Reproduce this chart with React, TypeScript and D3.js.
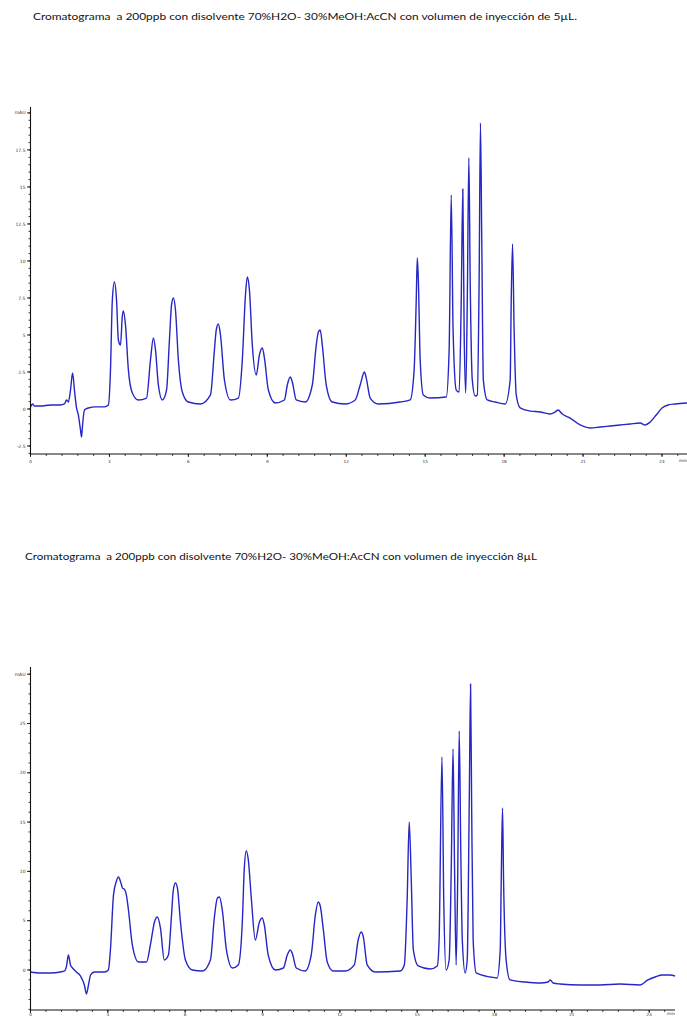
import React from 'react';
import * as d3 from 'd3';

// ---------- text ----------
const titleTop =
  'Cromatograma  a 200ppb con disolvente 70%H2O- 30%MeOH:AcCN con volumen de inyección de 5µL.';
const titleBottom =
  'Cromatograma  a 200ppb con disolvente 70%H2O- 30%MeOH:AcCN con volumen de inyección 8µL';
const xUnit = 'min';
const yUnit = 'mAU';

// ---------- tick labels ----------
const xTickValues = [0, 3, 6, 9, 12, 15, 18, 21, 24];
const topYTickValues = [-2.5, 0, 2.5, 5, 7.5, 10, 12.5, 15, 17.5];
const topYUnitAt = 20;
const bottomYTickValues = [0, 5, 10, 15, 20, 25];
const bottomYUnitAt = 30;

// ---------- series: [time (min), absorbance (mAU)] ----------
const trace5uL: [number, number][] = [
  [0.0, 0.14], [0.08, 0.34], [0.15, 0.2], [0.38, 0.2], [0.76, 0.27], [1.14, 0.27],
  [1.29, 0.34], [1.37, 0.61], [1.44, 0.47], [1.52, 1.28], [1.6, 2.43], [1.67, 1.28],
  [1.75, 0.07], [1.82, -0.41], [1.9, -1.42], [1.94, -1.89], [1.97, -1.28], [2.05, -0.07],
  [2.2, 0.07], [2.47, 0.14], [2.81, 0.14], [2.96, 0.27], [3.04, 2.64], [3.11, 7.36],
  [3.19, 8.58], [3.27, 7.36], [3.34, 4.66], [3.42, 4.32], [3.49, 6.28], [3.53, 6.62],
  [3.61, 5.68], [3.72, 2.64], [3.87, 1.08], [4.1, 0.61], [4.41, 0.74], [4.56, 3.31],
  [4.67, 4.8], [4.75, 3.99], [4.86, 1.62], [5.01, 0.61], [5.17, 1.28], [5.28, 4.66],
  [5.36, 7.03], [5.43, 7.5], [5.51, 6.69], [5.62, 3.31], [5.77, 1.15], [6.0, 0.47],
  [6.46, 0.34], [6.84, 0.95], [6.99, 3.99], [7.06, 5.34], [7.14, 5.74], [7.22, 5.0],
  [7.37, 1.96], [7.6, 0.61], [7.9, 0.74], [8.05, 3.31], [8.17, 7.7], [8.24, 8.92],
  [8.32, 8.04], [8.43, 4.32], [8.58, 2.3], [8.7, 3.65], [8.81, 4.12], [8.89, 3.45],
  [9.04, 1.28], [9.3, 0.41], [9.65, 0.61], [9.76, 1.62], [9.87, 2.16], [9.95, 1.82],
  [10.1, 0.61], [10.44, 0.47], [10.71, 1.62], [10.86, 4.32], [10.94, 5.2], [11.01, 5.34],
  [11.09, 4.32], [11.24, 1.62], [11.47, 0.47], [11.96, 0.34], [12.34, 0.61], [12.53, 1.62],
  [12.69, 2.5], [12.76, 2.09], [12.91, 0.74], [13.22, 0.34], [14.05, 0.47], [14.43, 0.61],
  [14.58, 2.64], [14.66, 7.36], [14.7, 10.2], [14.74, 8.72], [14.81, 3.31], [14.93, 0.95],
  [15.19, 0.74], [15.8, 0.81], [15.91, 3.99], [15.99, 14.46], [16.06, 5.34], [16.18, 1.28],
  [16.29, 1.15], [16.37, 7.36], [16.43, 14.86], [16.48, 5.34], [16.54, 1.08], [16.6, 7.36],
  [16.66, 16.96], [16.71, 8.72], [16.79, 1.96], [16.9, 0.88], [16.98, 0.95], [17.05, 8.72],
  [17.1, 19.32], [17.15, 11.42], [17.21, 1.96], [17.36, 0.61], [17.66, 0.47], [18.04, 0.34],
  [18.23, 1.96], [18.27, 7.36], [18.32, 11.15], [18.38, 5.34], [18.46, 0.95], [18.61, 0.07],
  [18.99, -0.14], [19.37, -0.2], [19.75, -0.34], [19.94, -0.2], [20.05, -0.07], [20.21, -0.34],
  [20.51, -0.61], [20.89, -1.08], [21.27, -1.28], [21.65, -1.22], [22.03, -1.15], [22.41, -1.08],
  [22.79, -1.01], [23.17, -0.95], [23.36, -1.08], [23.55, -0.88], [23.78, -0.41], [24.0, 0.07],
  [24.23, 0.27], [24.5, 0.34], [24.95, 0.41],
];

const trace8uL: [number, number][] = [
  [0.0, -0.2], [0.39, -0.3], [0.78, -0.3], [1.16, -0.2], [1.32, -0.1], [1.4, 0.41],
  [1.47, 1.52], [1.55, 0.51], [1.63, 0.2], [1.78, -0.2], [1.94, -0.61], [2.09, -1.52],
  [2.17, -2.43], [2.25, -1.52], [2.33, -0.51], [2.48, -0.2], [2.87, -0.2], [3.02, 0.0],
  [3.1, 2.03], [3.22, 7.61], [3.33, 9.0], [3.41, 9.43], [3.5, 8.9], [3.57, 8.3],
  [3.64, 8.2], [3.72, 7.6], [3.8, 6.08], [3.95, 2.54], [4.19, 0.81], [4.5, 0.81],
  [4.65, 2.54], [4.81, 4.87], [4.92, 5.37], [5.04, 4.26], [5.19, 1.01], [5.35, 1.52],
  [5.47, 5.58], [5.54, 8.11], [5.62, 8.82], [5.7, 8.31], [5.81, 5.07], [6.01, 1.01],
  [6.28, 0.0], [6.67, -0.1], [6.98, 1.01], [7.13, 5.27], [7.25, 7.3], [7.33, 7.4],
  [7.44, 6.08], [7.6, 2.03], [7.83, 0.2], [8.06, 0.51], [8.22, 5.07], [8.29, 10.14],
  [8.37, 12.07], [8.45, 11.15], [8.57, 7.1], [8.72, 3.04], [8.88, 4.87], [8.99, 5.27],
  [9.07, 4.56], [9.22, 1.52], [9.5, 0.0], [9.81, 0.2], [9.96, 1.52], [10.08, 2.03],
  [10.15, 1.72], [10.31, 0.2], [10.66, -0.1], [10.89, 1.52], [11.05, 5.58], [11.16, 6.9],
  [11.24, 6.49], [11.36, 4.06], [11.51, 0.81], [11.74, -0.1], [12.21, -0.1], [12.56, 0.51],
  [12.71, 3.04], [12.83, 3.85], [12.91, 3.35], [13.06, 0.51], [13.37, -0.2], [14.34, -0.1],
  [14.5, 0.51], [14.61, 7.1], [14.69, 15.01], [14.77, 9.13], [14.85, 2.03], [15.04, 0.41],
  [15.5, 0.1], [15.78, 0.41], [15.85, 3.04], [15.96, 21.6], [16.03, 7.1], [16.12, 0.0],
  [16.24, 1.01], [16.32, 10.14], [16.39, 22.41], [16.45, 10.14], [16.51, 0.51], [16.57, 9.13],
  [16.63, 24.23], [16.69, 12.17], [16.75, 3.04], [16.86, -0.3], [16.94, 1.01], [17.02, 17.24],
  [17.07, 29.0], [17.11, 17.24], [17.17, 3.04], [17.29, -0.3], [17.83, -0.71], [18.1, -0.81],
  [18.22, 2.03], [18.26, 9.13], [18.31, 16.43], [18.35, 9.13], [18.45, 1.01], [18.6, -1.01],
  [19.19, -1.22], [19.77, -1.32], [20.08, -1.22], [20.16, -1.01], [20.27, -1.32], [20.54, -1.42],
  [21.32, -1.52], [22.09, -1.52], [22.87, -1.42], [23.64, -1.52], [23.95, -1.01], [24.23, -0.71],
  [24.5, -0.51], [24.81, -0.51], [25.0, -0.61],
];

type ChartProps = {
  title: string;
  titleX: number;
  titleY: number;
  titleWidth: number;
  data: [number, number][];
  xDomain: [number, number];
  xRange: [number, number];
  yDomain: [number, number];
  yRange: [number, number];
  yTicks: number[];
  yUnitAt: number;
  yMinorStep: number;
  xMinorStep: number;
  xLabelOffset: number;
};

const AXIS = '#111';
const LABEL = '#333';
const TRACE = '#2626c4';
const TICK_FONT = "'DejaVu Sans', sans-serif";

function Chromatogram(p: ChartProps) {
  const x = d3.scaleLinear().domain(p.xDomain).range(p.xRange);
  const y = d3.scaleLinear().domain(p.yDomain).range(p.yRange);
  const line = d3
    .line<[number, number]>()
    .x((d) => x(d[0]))
    .y((d) => y(d[1]))
    .curve(d3.curveMonotoneX);

  const x0 = p.xRange[0];
  const x1 = p.xRange[1];
  const yBottom = p.yRange[0];
  const yTop = p.yRange[1];

  const yMinor = d3
    .range(Math.ceil(p.yDomain[0] / p.yMinorStep), Math.floor(p.yDomain[1] / p.yMinorStep) + 1)
    .map((k) => k * p.yMinorStep);
  const xMinor = d3
    .range(0, Math.floor(p.xDomain[1] / p.xMinorStep) + 1)
    .map((k) => k * p.xMinorStep);

  return (
    <g>
      <text
        x={p.titleX}
        y={p.titleY}
        fontFamily="Lato, 'Open Sans', sans-serif"
        fontSize={9.5}
        fill="#111"
        textLength={p.titleWidth}
        lengthAdjust="spacingAndGlyphs"
        style={{ whiteSpace: 'pre' }}
      >
        {p.title}
      </text>

      {/* trace */}
      <path d={line(p.data) ?? ''} fill="none" stroke={TRACE} strokeWidth={1.4} strokeLinejoin="round" />

      {/* y axis */}
      <line x1={x0} x2={x0} y1={yTop} y2={yBottom + 1} stroke={AXIS} strokeWidth={1.1} />
      {yMinor.map((v) => (
        <line key={'ym' + v} x1={x0 - 2} x2={x0} y1={y(v)} y2={y(v)} stroke={AXIS} strokeWidth={0.8} />
      ))}
      {[...p.yTicks, p.yUnitAt].map((v) => (
        <line key={'yM' + v} x1={x0 - 3.5} x2={x0} y1={y(v)} y2={y(v)} stroke={AXIS} strokeWidth={0.9} />
      ))}
      {p.yTicks.map((v) => (
        <text
          key={'yl' + v}
          x={x0 - 5}
          y={y(v)}
          dy="0.35em"
          textAnchor="end"
          fontFamily={TICK_FONT}
          fontSize={4.5}
          fill={LABEL}
        >
          {v}
        </text>
      ))}
      <text
        x={x0 - 5}
        y={y(p.yUnitAt)}
        dy="0.35em"
        textAnchor="end"
        fontFamily={TICK_FONT}
        fontSize={4.5}
        fill={LABEL}
      >
        {yUnit}
      </text>

      {/* x axis */}
      <line x1={x0} x2={x1} y1={yBottom} y2={yBottom} stroke={AXIS} strokeWidth={1.1} />
      {xMinor.map((v) => (
        <line key={'xm' + v} x1={x(v)} x2={x(v)} y1={yBottom} y2={yBottom + 2} stroke={AXIS} strokeWidth={0.8} />
      ))}
      {xTickValues.map((v) => (
        <line key={'xM' + v} x1={x(v)} x2={x(v)} y1={yBottom} y2={yBottom + 3} stroke={AXIS} strokeWidth={0.9} />
      ))}
      {xTickValues.map((v) => (
        <text
          key={'xl' + v}
          x={x(v)}
          y={yBottom + p.xLabelOffset}
          textAnchor="middle"
          fontFamily={TICK_FONT}
          fontSize={4.2}
          fill={LABEL}
        >
          {v}
        </text>
      ))}
      <text
        x={x1 - 4}
        y={yBottom + p.xLabelOffset - 1}
        textAnchor="middle"
        fontFamily={TICK_FONT}
        fontSize={4.2}
        fill={LABEL}
      >
        {xUnit}
      </text>
    </g>
  );
}

export default function App() {
  return (
    <svg
      width={687}
      height={1017}
      viewBox="0 0 687 1017"
      style={{ position: 'absolute', left: 0, top: 0, background: '#fff' }}
    >
      <rect width={687} height={1017} fill="#fff" />
      <Chromatogram
        title={titleTop}
        titleX={33}
        titleY={20}
        titleWidth={544}
        data={trace5uL}
        xDomain={[0, 24.95]}
        xRange={[30.5, 687]}
        yDomain={[-3.04, 20.4]}
        yRange={[454, 107]}
        yTicks={topYTickValues}
        yUnitAt={topYUnitAt}
        yMinorStep={0.5}
        xMinorStep={0.6}
        xLabelOffset={8.5}
      />
      <Chromatogram
        title={titleBottom}
        titleX={25}
        titleY={560}
        titleWidth={512}
        data={trace8uL}
        xDomain={[0, 25.0]}
        xRange={[30.5, 675]}
        yDomain={[-4.06, 30.73]}
        yRange={[1010, 667]}
        yTicks={bottomYTickValues}
        yUnitAt={bottomYUnitAt}
        yMinorStep={1}
        xMinorStep={0.6}
        xLabelOffset={5.8}
      />
    </svg>
  );
}
